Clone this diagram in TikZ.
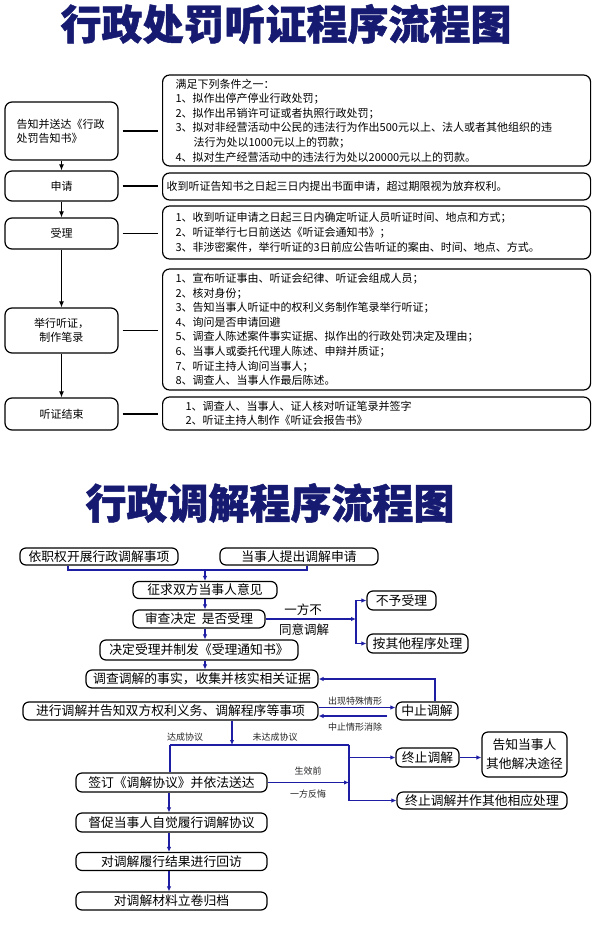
\documentclass[tikz,border=0pt]{standalone}
\usepackage{fontspec}
\setmainfont{Noto Sans CJK SC}
\newfontfamily\titlefont[BoldFeatures={FakeBold=1.2}]{Noto Sans CJK SC}
\usetikzlibrary{arrows.meta,calc}
\definecolor{navy}{RGB}{22,26,112}
\definecolor{cblue}{RGB}{30,30,165}
\begin{document}
\begin{tikzpicture}[x=1pt,y=-1pt,
  title/.style={font=\fontsize{41}{41}\titlefont\bfseries, text=navy, inner sep=0pt},
  lbox/.style={draw, line width=1.2pt, rounded corners=7pt, minimum width=113pt, align=center, inner sep=0pt, font=\fontsize{11}{14}\selectfont},
  rbox/.style={draw, line width=1.2pt, rounded corners=7pt, align=left, anchor=west, inner ysep=0pt, font=\fontsize{11}{14.6}\selectfont},
  link/.style={line width=1.5pt, shorten <=4pt, shorten >=4pt},
  arr/.style={line width=1pt, -{Latex[length=6pt,width=5pt]}},
  sbox/.style={draw, line width=1.2pt, rounded corners=6pt, inner sep=0pt, align=center, font=\fontsize{12.8}{19}\selectfont},
  bl/.style={draw=cblue, line width=1.2pt},
  barr/.style={bl, -{Latex[length=5pt,width=4.5pt]}},
  lab/.style={inner sep=0pt, font=\fontsize{9}{9}\selectfont, text=black!85},
  labb/.style={inner sep=0pt, font=\fontsize{12.5}{12.5}\selectfont}
]
\useasboundingbox (0,0) rectangle (600,933);
\fill[white] (0,0) rectangle (600,933);

% ---------- Part 1 ----------
\node[title] (t1) at (286,24) {行政处罚听证程序流程图};

\node[lbox, minimum height=58pt, text width=90pt, align=left] (L1) at (61.5,131) {告知并送达《行政\\处罚告知书》};
\node[lbox, minimum height=30pt] (L2) at (61.5,186) {申请};
\node[lbox, minimum height=31pt] (L3) at (61.5,233.5) {受理};
\node[lbox, minimum height=45pt] (L4) at (61.5,330.5) {举行听证，\\制作笔录};
\node[lbox, minimum height=32pt] (L5) at (61.5,414) {听证结束};

\node[rbox, minimum height=91pt, inner xsep=13pt, text width=402pt] (R1) at (162,120.5) {满足下列条件之一：\\1、拟作出停产停业行政处罚；\\2、拟作出吊销许可证或者执照行政处罚；\\3、拟对非经营活动中公民的违法行为作出500元以上、法人或者其他组织的违\\\hspace*{18pt}法行为处以1000元以上的罚款；\\4、拟对生产经营活动中的违法行为处以20000元以上的罚款。};
\node[rbox, minimum height=27pt, inner xsep=4pt, text width=420pt] (R2) at (162,186.5) {收到听证告知书之日起三日内提出书面申请，超过期限视为放弃权利。};
\node[rbox, minimum height=53pt, inner xsep=13pt, text width=402pt] (R3) at (162,232.5) {1、收到听证申请之日起三日内确定听证人员听证时间、地点和方式；\\2、听证举行七日前送达《听证会通知书》；\\3、非涉密案件，举行听证的3日前应公告听证的案由、时间、地点、方式。};
\node[rbox, minimum height=121pt, inner xsep=13pt, text width=402pt] (R4) at (162,329.5) {1、宣布听证事由、听证会纪律、听证会组成人员；\\2、核对身份；\\3、告知当事人听证中的权利义务制作笔录举行听证；\\4、询问是否申请回避\\5、调查人陈述案件事实证据、拟作出的行政处罚决定及理由；\\6、当事人或委托代理人陈述、申辩并质证；\\7、听证主持人询问当事人；\\8、调查人、当事人作最后陈述。};
\node[rbox, minimum height=33pt, inner xsep=23pt, text width=382pt] (R5) at (162,413.5) {1、调查人、当事人、证人核对听证笔录并签字\\2、听证主持人制作《听证会报告书》};

\draw[arr] (L1) -- (L2);
\draw[arr] (L2) -- (L3);
\draw[arr] (L3) -- (L4);
\draw[arr] (L4) -- (L5);
\foreach \a/\b in {L1/R1,L2/R2,L3/R3,L4/R4,L5/R5}
  \draw[link] (\a.east) -- (\a.east -| \b.west);

% ---------- Part 2 ----------
\node[title] (t2) at (270,503) {行政调解程序流程图};

\node[sbox, minimum width=158pt, minimum height=17pt] (b1) at (99,556.5) {依职权开展行政调解事项};
\node[sbox, minimum width=158pt, minimum height=17pt] (b2) at (299,556.5) {当事人提出调解申请};
\node[sbox, minimum width=144pt, minimum height=17pt] (b3) at (205,590) {征求双方当事人意见};
\node[sbox, minimum width=132pt, minimum height=18pt] (b4) at (199,619) {审查决定\ \ 是否受理};
\node[sbox, minimum width=198pt, minimum height=20pt] (b5) at (199,650) {决定受理并制发《受理通知书》};
\node[sbox, minimum width=232pt, minimum height=18pt] (b6) at (202,679) {调查调解的事实，收集并核实相关证据};
\node[sbox, minimum width=295pt, minimum height=18pt] (b7) at (170.5,711) {进行调解并告知双方权利义务、调解程序等事项};
\node[sbox, minimum width=191pt, minimum height=19pt] (b8) at (171.5,782.5) {签订《调解协议》并依法送达};
\node[sbox, minimum width=191pt, minimum height=19pt] (b9) at (171.5,822.5) {督促当事人自觉履行调解协议};
\node[sbox, minimum width=191pt, minimum height=18pt] (b10) at (171.5,861.5) {对调解履行结果进行回访};
\node[sbox, minimum width=191pt, minimum height=18pt] (b11) at (171.5,901) {对调解材料立卷归档};
\node[sbox, minimum width=69pt, minimum height=19pt] (b12) at (401.5,600.5) {不予受理};
\node[sbox, minimum width=101pt, minimum height=19pt] (b13) at (417.5,643.5) {按其他程序处理};
\node[sbox, minimum width=62pt, minimum height=18pt] (b14) at (427,711) {中止调解};
\node[sbox, minimum width=63pt, minimum height=19pt] (b15) at (427.5,757.5) {终止调解};
\node[sbox, minimum width=85pt, minimum height=45pt] (b16) at (524.5,754.5) {告知当事人\\其他解决途径};
\node[sbox, minimum width=170pt, minimum height=17pt] (b17) at (482,800.5) {终止调解并作其他相应处理};

% junction coordinates
\coordinate (jl1) at (68,570);
\coordinate (jm1) at (205,570);
\coordinate (jr1) at (307,570);
\coordinate (ax) at (205,0);
\coordinate (v1) at (356,619);
\coordinate (up) at (435,0);
\coordinate (jd) at (232,745);
\coordinate (jl) at (170,745);
\coordinate (jr) at (349,745);
\coordinate (ac) at (169,0);

\draw[bl] (b1.south -| jl1) |- (jm1) -| (b2.south -| jr1);
\draw[barr] (jm1) -- (b3.north -| jm1);
\draw[barr] (b3.south -| ax) -- (b4.north -| ax);
\draw[barr] (b4.south -| ax) -- (b5.north -| ax);
\draw[barr] (b5.south -| ax) -- (b6.north -| ax);

\draw[barr] (b4.east) -- (v1);
\draw[bl, {Latex[length=5pt,width=4.5pt]}-{Latex[length=5pt,width=4.5pt]}] (b12.west) -| (v1) |- (b13.west);
\node[labb] (l5) at (303,610) {一方不};
\node[labb] (l6) at (304,630) {同意调解};

\draw[barr] (b14.north -| up) |- (b6.east);
\draw[barr] ([yshift=3.5pt]b7.east) -- ([yshift=3.5pt]b7.east -| b14.west);
\draw[barr, shorten <=8pt] ([yshift=-5pt]b14.west) -- ([yshift=-5pt]b14.west -| b7.east);
\node[lab] (l1) at (355,701) {出现特殊情形};
\node[lab] (l2) at (355,727) {中止情形消除};

\draw[barr] (b7.south -| jd) -- (jd);
\draw[bl] (jl) -- (jr);
\draw[bl] (jl) -- (b8.north -| jl);
\draw[bl] (jr) -- (jr |- b17.west);
\draw[barr] (jr |- b15.west) -- (b15.west);
\draw[barr] (jr |- b17.west) -- (b17.west);
\draw[barr] (b8.east) -- (b8.east -| jr);
\draw[barr] (b15.east) -- (b15.east -| b16.west);
\node[lab] (l3) at (185,737) {达成协议};
\node[lab] (l4) at (275,737) {未达成协议};
\node[lab] (l7) at (308,771) {生效前};
\node[lab] (l8) at (308,794) {一方反悔};

\draw[barr] (b8.south -| ac) -- (b9.north -| ac);
\draw[barr] (b9.south -| ac) -- (b10.north -| ac);
\draw[barr] (b10.south -| ac) -- (b11.north -| ac);
\end{tikzpicture}
\end{document}
